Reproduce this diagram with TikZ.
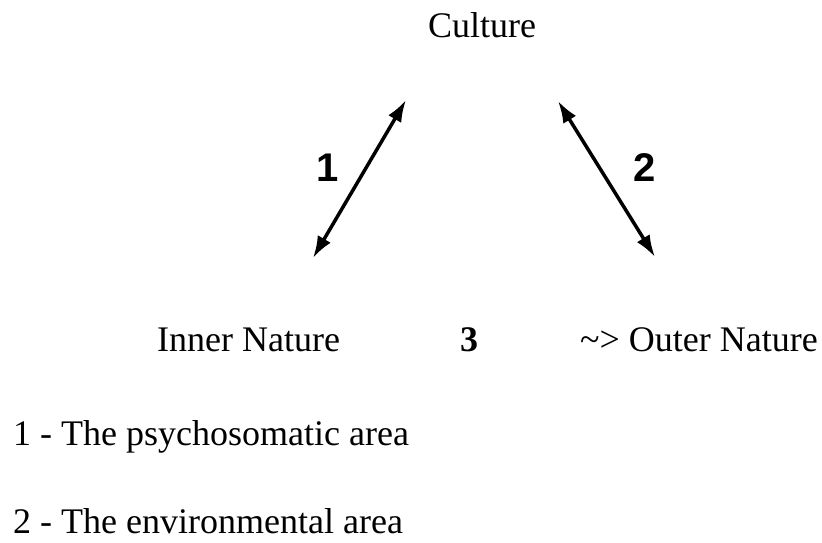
\documentclass[tikz,border=0pt]{standalone}
\usepackage{fontspec}
\setmainfont{Liberation Serif}
\setsansfont{Liberation Sans}
\usetikzlibrary{arrows.meta}
\tikzset{
  txt/.style={inner sep=0pt, font=\fontsize{36}{40}\selectfont},
  numlab/.style={inner sep=0pt, font=\sffamily\bfseries\fontsize{40}{44}\selectfont},
  dbl/.style={line width=3.5pt, {Latex[length=22pt,width=15pt]}-{Latex[length=22pt,width=15pt]}}
}
\begin{document}
\begin{tikzpicture}[x=1pt,y=-1pt]
\useasboundingbox (0,0) rectangle (822,543);
\node[txt, anchor=base west] (culture) at (428,38) {Culture};
\coordinate (a1s) at (313,258);
\coordinate (a1e) at (406,100);
\coordinate (a2s) at (558,101);
\coordinate (a2e) at (655,257);
\draw[dbl] (a1s) -- (a1e);
\draw[dbl] (a2s) -- (a2e);
\node[numlab] (l1) at (328,168) {1};
\node[numlab] (l2) at (645,168) {2};
\node[txt, anchor=base west] (inner) at (157,351) {Inner Nature};
\node[txt, anchor=base west] (three) at (460,351) {\bfseries 3};
\node[txt, anchor=base east] (outer) at (818,351) {\textasciitilde> Outer Nature};
\node[txt, anchor=base west] (k1) at (13,445) {1 - The psychosomatic area};
\node[txt, anchor=base west] (k2) at (13,533) {2 - The environmental area};
\end{tikzpicture}
\end{document}
